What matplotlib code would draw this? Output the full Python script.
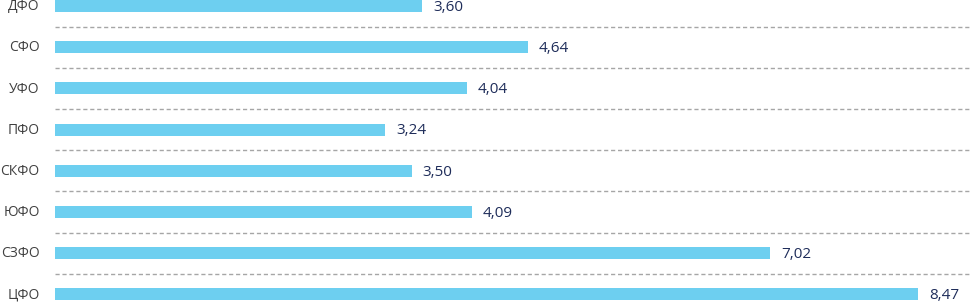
import matplotlib
matplotlib.use("Agg")
import matplotlib.pyplot as plt

# ----------------------------
# Data (top to bottom)
# ----------------------------
regions = ["ДФО", "СФО", "УФО", "ПФО", "СКФО", "ЮФО", "СЗФО", "ЦФО"]
values = [3.60, 4.64, 4.04, 3.24, 3.50, 4.09, 7.02, 8.47]

BAR_COLOR = "#6DCFF0"
VALUE_COLOR = "#1F2D5A"
LABEL_COLOR = "#404040"

plt.rcParams["font.family"] = ["Open Sans", "DejaVu Sans"]

fig = plt.figure(figsize=(9.71, 3.03), dpi=100)
ax = fig.add_axes([0, 0, 1, 1])

ypos = list(range(len(regions)))
ax.barh(ypos, values, height=0.29, color=BAR_COLOR, zorder=2)

# dashed separators between bars
x_start = 55 / 971
for i in range(len(regions) - 1):
    ax.axhline(i + 0.5, xmin=x_start, xmax=1, color="#A6A6A6", lw=1.0,
               linestyle=(0, (3, 2)), zorder=1)

for i, (name, v) in enumerate(zip(regions, values)):
    ax.annotate(name, xy=(0, i), xytext=(-11, -0.5), textcoords="offset points",
                ha="right", va="center", fontsize=10, color=LABEL_COLOR)
    ax.annotate(f"{v:.2f}".replace(".", ","), xy=(v, i), xytext=(8, -1),
                textcoords="offset points", ha="left", va="center",
                fontsize=11, color=VALUE_COLOR)

ax.set_xlim(-55 / 101.9, (971 - 55) / 101.9)
ax.set_ylim((303 - 6) / 41.2, -6 / 41.2)
ax.axis("off")

fig.savefig("out.png", dpi=100)
